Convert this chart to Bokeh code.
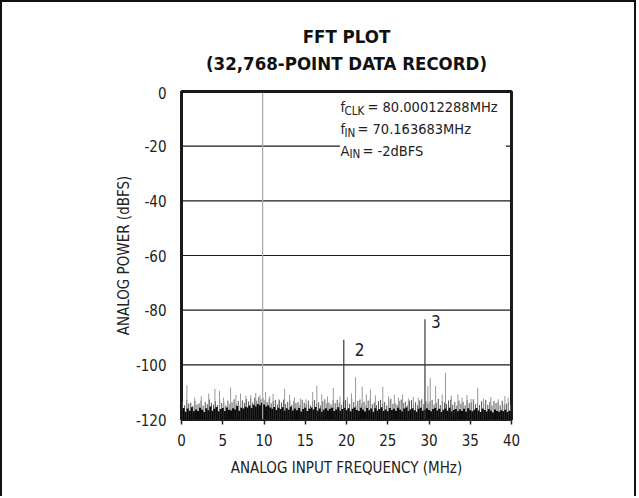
from bokeh.plotting import figure
from bokeh.models import Label, FixedTicker, Range1d
from bokeh.layouts import column
from bokeh.core.properties import value
from bokeh.embed import file_html
from bokeh.resources import INLINE

FONT = "'DejaVu Sans Condensed', 'Liberation Sans Narrow', sans-serif"

# ---------------- data ----------------
x_ticks = [0, 5, 10, 15, 20, 25, 30, 35, 40]
y_ticks = [0, -20, -40, -60, -80, -100, -120]

# fundamental (aliased) and harmonics 2, 3
tone_freq = [9.836, 19.67, 29.51]
tone_level = [-0.5, -90.8, -83.3]
tone_name = ["", "2", "3"]

# dense noise floor, one value every 0.25 MHz from 0 to 40 MHz
floor_freq_step = 0.25
floor_level = [
    -116.5, -115.8, -117.2, -116.0, -116.8, -115.5, -117.0, -116.3,
    -116.9, -115.7, -116.4, -117.3, -115.9, -116.6, -115.2, -116.8,
    -116.1, -115.4, -117.0, -116.2, -115.8, -116.9, -115.6, -116.4,
    -116.7, -115.9, -116.3, -115.1, -116.8, -115.7, -116.0, -115.3,
    -115.6, -114.9, -115.8, -114.6, -115.2, -114.3, -114.8, -113.9,
    -114.5, -115.2, -114.8, -115.6, -116.1, -115.4, -116.5, -115.7,
    -116.2, -115.5, -116.8, -115.9, -116.4, -115.3, -116.7, -116.0,
    -116.6, -115.8, -117.1, -116.2, -115.7, -116.9, -116.1, -115.6,
    -116.3, -115.4, -116.8, -116.0, -117.2, -116.4, -115.9, -116.7,
    -116.1, -115.7, -116.9, -116.3, -115.5, -116.8, -116.2, -115.8,
    -116.6, -115.9, -117.0, -116.1, -115.6, -116.5, -116.9, -115.7,
    -116.4, -117.1, -115.8, -116.6, -116.0, -117.2, -115.9, -116.7,
    -116.2, -115.5, -116.9, -116.3, -117.0, -115.8, -116.5, -116.1,
    -116.8, -115.7, -116.4, -117.1, -116.0, -115.6, -116.9, -116.3,
    -115.9, -116.6, -117.2, -116.1, -115.7, -116.8, -116.4, -115.9,
    -116.5, -117.0, -116.2, -115.8, -116.7, -116.1, -117.3, -116.4,
    -116.0, -116.8, -115.7, -117.1, -116.5, -116.2, -117.0, -116.3,
    -116.9, -116.1, -117.2, -115.9, -116.6, -117.0, -116.4, -115.8,
    -116.7, -117.3, -116.0, -116.5, -117.1, -116.2, -116.8, -117.4,
    -116.3, -116.9, -117.2, -116.6, -117.0, -116.4, -117.3, -116.8,
    -117.0,
]

# grey "grass" between floor bins (0.125 + k*0.25 MHz)
grass_start = 0.125
grass_level = [
    -113.5, -114.8, -112.9, -114.2, -113.8, -115.0, -113.2, -114.5,
    -114.1, -113.0, -114.9, -113.6, -114.4, -112.7, -113.9, -114.6,
    -113.3, -114.7, -112.8, -114.0, -113.5, -114.9, -113.1, -114.3,
    -113.7, -112.6, -114.4, -113.2, -114.8, -113.0, -113.9, -112.5,
    -113.4, -112.3, -113.8, -112.0, -113.1, -111.8, -112.6, -112.2,
    -112.9, -113.6, -112.4, -114.1, -113.3, -112.8, -114.5, -113.0,
    -113.8, -112.7, -114.3, -113.5, -112.9, -114.6, -113.2, -114.0,
    -113.6, -114.7, -112.8, -113.9, -114.4, -113.1, -114.8, -113.4,
    -112.9, -114.2, -113.7, -114.9, -113.3, -112.6, -114.1, -113.8,
    -114.5, -113.0, -114.0, -112.8, -113.9, -114.6, -113.4, -112.9,
    -113.7, -114.3, -112.5, -113.6, -114.8, -113.2, -112.7, -114.2,
    -113.5, -114.9, -113.1, -112.6, -114.4, -113.8, -114.7, -113.3,
    -112.8, -114.1, -113.6, -114.8, -113.0, -112.4, -114.3, -113.9,
    -114.6, -113.2, -112.7, -114.0, -113.5, -114.9, -113.1, -112.9,
    -114.2, -113.7, -114.8, -113.0, -112.6, -114.4, -113.3, -114.1,
    -113.4, -112.8, -114.5, -113.9, -112.5, -114.7, -113.2, -113.8,
    -114.3, -113.0, -112.7, -114.6, -113.6, -114.9, -113.1, -114.2,
    -113.5, -114.8, -112.9, -114.0, -113.7, -112.6, -114.4, -113.9,
    -114.7, -113.3, -114.1, -112.8, -114.6, -113.5, -114.9, -113.2,
    -114.0, -113.6, -114.8, -113.1, -114.5, -114.2, -113.7, -114.6,
]

# isolated spurs sticking out of the noise
spur_freq = [0.65, 1.6, 2.4, 3.3, 4.05, 4.6, 5.1, 5.95, 6.6, 7.15, 7.8, 8.4,
             9.0, 9.5, 10.2, 10.7, 11.1, 11.8, 12.5, 13.1, 13.7, 14.4, 15.1,
             15.9, 16.4, 17.0, 17.7, 18.4, 19.2, 20.1, 20.6, 21.1, 21.9, 22.4,
             22.9, 23.5, 24.4, 25.1, 25.8, 26.3, 26.8, 27.5, 28.1, 28.7, 29.86,
             30.15, 30.8, 31.6, 32.0, 32.7, 33.5, 34.0, 34.6, 35.1, 35.9, 36.6,
             37.5, 38.4, 39.2, 39.6]
spur_level = [-107.5, -112.0, -111.5, -110.5, -108.8, -109.5, -112.0, -108.3,
              -111.0, -110.5, -111.3, -111.0, -110.3, -111.0, -110.0, -111.5,
              -110.6, -112.5, -108.8, -110.9, -112.0, -112.3, -112.6, -110.0,
              -107.6, -110.8, -111.6, -108.5, -111.5, -111.8, -110.5, -104.5,
              -108.0, -110.8, -109.0, -111.2, -108.0, -111.5, -111.0, -112.0,
              -110.8, -112.3, -111.7, -112.0, -107.8, -104.8, -107.8, -110.8,
              -102.9, -111.3, -110.8, -112.0, -111.0, -112.5, -108.5, -112.4,
              -111.8, -112.6, -111.4, -112.0]

notes_main = ["= 80.00012288MHz", "= 70.163683MHz", "= -2dBFS"]
notes_head = ["f", "f", "A"]
notes_sub = ["CLK", "IN", "IN"]
title_lines = ["FFT PLOT", "(32,768-POINT DATA RECORD)"]

# ---------------- layout constants ----------------
W = 636
TITLE_H = 86
MAIN_H = 410
BL, BR = 181, 125

xr = Range1d(0, 40)

# ---------------- title strip ----------------
t = figure(width=W, height=TITLE_H, output_backend="svg", toolbar_location=None,
           x_range=xr, y_range=Range1d(TITLE_H, 0),
           x_axis_type=None, y_axis_type=None,
           min_border_left=BL, min_border_right=BR,
           min_border_top=0, min_border_bottom=0)
t.outline_line_color = None
t.background_fill_alpha = 0
t.border_fill_alpha = 0
t.grid.visible = False
t.text(x=[20, 20], y=[35.5, 62.5], text=title_lines, text_font=value(FONT),
       text_font_size="18.5px", text_font_style="bold", text_color="#111111",
       text_align="center", text_baseline="middle")
t.styles = {"box-shadow": "inset 2px 2px 0 0 #111111, inset -2px 0 0 0 #111111"}

# ---------------- main plot ----------------
p = figure(width=W, height=MAIN_H, output_backend="svg", toolbar_location=None,
           x_range=xr, y_range=Range1d(-120, 0),
           min_border_left=BL, min_border_right=BR,
           min_border_top=5, min_border_bottom=77)
p.background_fill_color = "white"
p.border_fill_alpha = 0
p.outline_line_color = "#1a1a1a"
p.outline_line_width = 3
p.xgrid.visible = False
p.ygrid.visible = False
p.styles = {"box-shadow": "inset 2px 0 0 0 #111111, inset -2px 0 0 0 #111111"}

BOTTOM = y_ticks[-1]

# horizontal grid lines (the -20 one is interrupted by the note text)
gx0 = [x_ticks[0]] * 4 + [x_ticks[0], 39.3]
gx1 = [x_ticks[-1]] * 4 + [19.2, x_ticks[-1]]
gy = [y_ticks[2], y_ticks[3], y_ticks[4], y_ticks[5], y_ticks[1], y_ticks[1]]
p.segment(x0=gx0, y0=gy, x1=gx1, y1=gy, line_color="#1a1a1a", line_width=1.2)

# noise
floor_freq = [i * floor_freq_step for i in range(len(floor_level))]
grass_freq = [grass_start + i * floor_freq_step for i in range(len(grass_level))]
p.segment(x0=grass_freq, y0=[BOTTOM] * len(grass_freq), x1=grass_freq, y1=grass_level,
          line_color="#555555", line_width=1)
p.segment(x0=spur_freq, y0=[BOTTOM] * len(spur_freq), x1=spur_freq, y1=spur_level,
          line_color="#999999", line_width=1)
p.segment(x0=floor_freq, y0=[BOTTOM] * len(floor_freq), x1=floor_freq, y1=floor_level,
          line_color="#0a0a0a", line_width=2)

# tones
p.segment(x0=tone_freq[:1], y0=[BOTTOM], x1=tone_freq[:1], y1=tone_level[:1],
          line_color="#a8a8a8", line_width=1.2)
p.segment(x0=tone_freq[1:], y0=[BOTTOM] * 2, x1=tone_freq[1:], y1=tone_level[1:],
          line_color="#3a3a3a", line_width=1.2)

# harmonic numbers
p.add_layout(Label(x=tone_freq[1], y=-94.5, x_offset=11, text=tone_name[1],
                   text_font=FONT, text_font_size="17px", text_color="#222222",
                   text_baseline="middle"))
p.add_layout(Label(x=tone_freq[2], y=-84.2, x_offset=6, text=tone_name[2],
                   text_font=FONT, text_font_size="17px", text_color="#222222",
                   text_baseline="middle"))

# note text block
note_x = 19.27
note_y = [-5.85, -13.9, -21.6]
sub_off = [4, 4, 9]
main_off = [27, 17, 22]
for i in range(3):
    p.add_layout(Label(x=note_x, y=note_y[i], text=notes_head[i], text_font=FONT,
                       text_font_size="14.5px", text_color="#222222",
                       text_baseline="middle"))
    p.add_layout(Label(x=note_x, y=note_y[i], x_offset=sub_off[i], y_offset=-3.5,
                       text=notes_sub[i], text_font=FONT, text_font_size="11.5px",
                       text_color="#222222", text_baseline="middle"))
    p.add_layout(Label(x=note_x, y=note_y[i], x_offset=main_off[i],
                       text=notes_main[i], text_font=FONT, text_font_size="14.5px",
                       text_color="#222222", text_baseline="middle"))

# axes
p.xaxis.ticker = FixedTicker(ticks=x_ticks)
p.yaxis.ticker = FixedTicker(ticks=y_ticks)
p.yaxis.major_label_overrides = {tk: str(tk) for tk in y_ticks}
for ax in (p.xaxis[0], p.yaxis[0]):
    ax.axis_line_color = None
    ax.major_label_text_font = FONT
    ax.major_label_text_font_size = "15px"
    ax.major_label_text_color = "#222222"
    ax.axis_label_text_font = FONT
    ax.axis_label_text_font_size = "15px"
    ax.axis_label_text_font_style = "normal"
    ax.axis_label_text_color = "#222222"
    ax.minor_tick_line_color = None
p.xaxis.major_tick_in = 0
p.xaxis.major_tick_out = 5
p.xaxis.major_tick_line_color = "#222222"
p.xaxis.major_tick_line_width = 1.5
p.xaxis.major_label_standoff = 9
p.xaxis.axis_label = "ANALOG INPUT FREQUENCY (MHz)"
p.xaxis.axis_label_standoff = 10
p.yaxis.major_tick_in = 0
p.yaxis.major_tick_out = 0
p.yaxis.major_tick_line_color = None
p.yaxis.major_label_standoff = 15
p.yaxis.axis_label = "ANALOG POWER (dBFS)"
p.yaxis.axis_label_standoff = 0

page = column(t, p, spacing=0)

open("out.html", "w").write(file_html(page, INLINE))
